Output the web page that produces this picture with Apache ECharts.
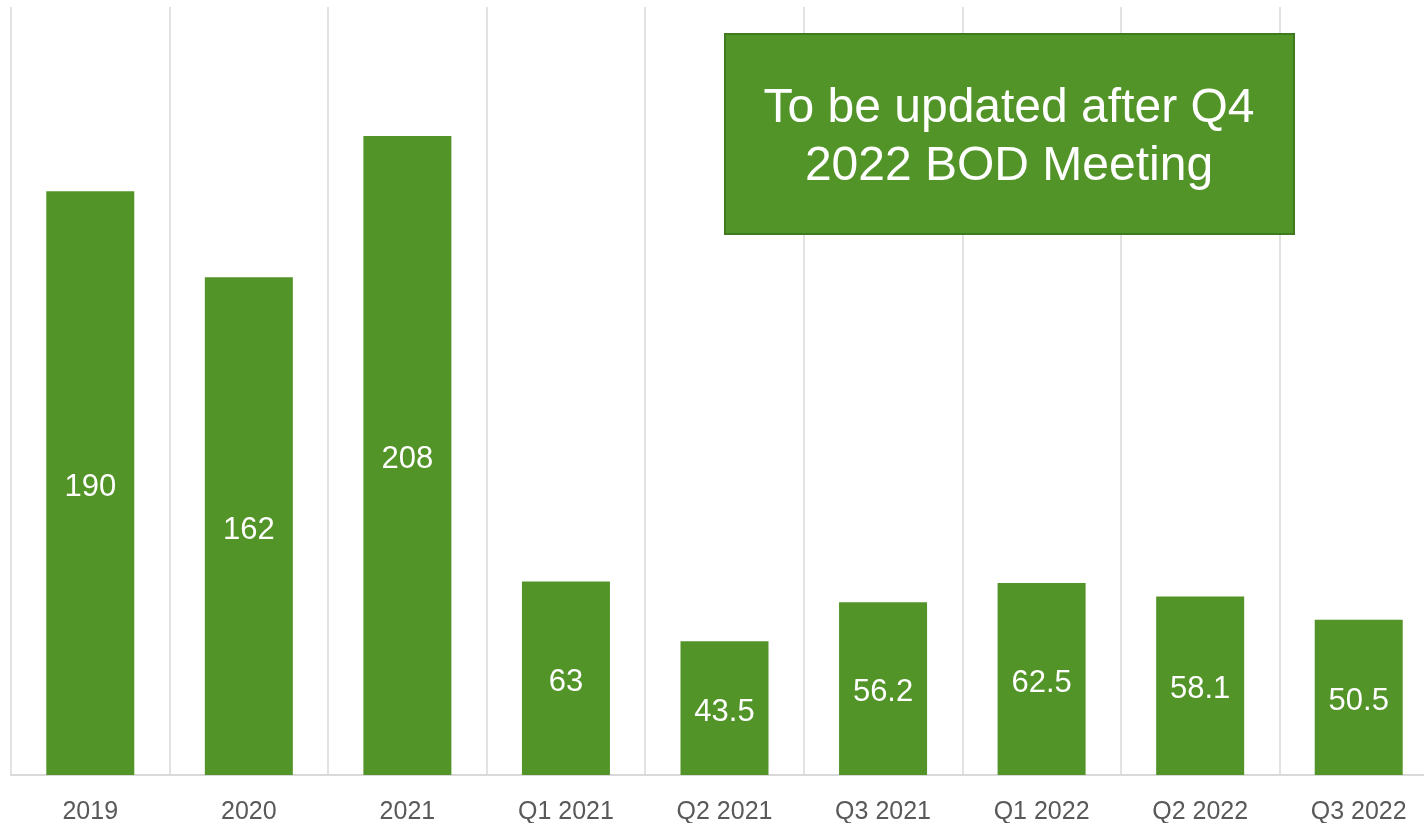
<!DOCTYPE html>
<html>
<head>
<meta charset="utf-8">
<script src="https://cdn.jsdelivr.net/npm/echarts@6/dist/echarts.min.js"></script>
<style>
    html, body { margin: 0; padding: 0; background: #fff; }
    #chart { width: 1424px; height: 823px; }
</style>
</head>
<body>
<div id="chart"></div>
<script>
const categories = ["2019", "2020", "2021", "Q1 2021", "Q2 2021", "Q3 2021", "Q1 2022", "Q2 2022", "Q3 2022"];
const values = [190, 162, 208, 63, 43.5, 56.2, 62.5, 58.1, 50.5];
const noteLines = ["To be updated after Q4", "2022 BOD Meeting"];

const green = "#529428";
const gridGray = "#d9d9d9";

const chart = echarts.init(document.getElementById("chart"));
chart.setOption({
    animation: false,
    grid: { left: 11, top: 7, width: 1427, bottom: 48, outerBoundsMode: "none", containLabel: false },
    xAxis: {
        type: "category",
        data: categories,
        axisLine: { lineStyle: { color: gridGray, width: 2 } },
        axisTick: { show: false },
        splitLine: { show: true, interval: 0, lineStyle: { color: gridGray, width: 1.5 } },
        axisLabel: {
            interval: 0,
            margin: 25,
            color: "#595959",
            fontSize: 25,
            fontFamily: "Liberation Sans, Arial, sans-serif",
        },
    },
    yAxis: {
        type: "value",
        min: 0,
        max: 250,
        show: false,
        splitLine: { show: false },
    },
    series: [
        {
            type: "bar",
            data: values,
            barWidth: 88,
            itemStyle: { color: green },
            label: {
                show: true,
                position: "inside",
                offset: [0, 4],
                color: "#fff",
                fontSize: 31,
                fontFamily: "Liberation Sans, Arial, sans-serif",
            },
        },
    ],
    graphic: [
        {
            type: "rect",
            left: 724,
            top: 33,
            shape: { width: 569, height: 200 },
            style: { fill: green, stroke: "#3f7a20", lineWidth: 2 },
            z: 10,
        },
        {
            type: "text",
            x: 1009,
            y: 138,
            style: {
                text: noteLines.join("\n"),
                fill: "#fff",
                font: "48px 'Liberation Sans', Arial, sans-serif",
                lineHeight: 58,
                align: "center",
                verticalAlign: "middle",
            },
            z: 11,
        },
    ],
});
</script>
</body>
</html>
